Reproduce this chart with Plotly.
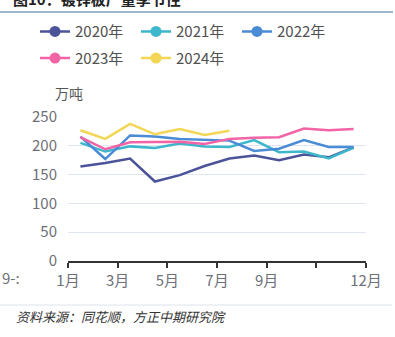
import plotly.graph_objects as go

months = ["1月", "2月", "3月", "4月", "5月", "6月", "7月", "8月", "9月", "10月", "11月", "12月"]
tick_labels = ["1月", "3月", "5月", "7月", "9月", "", "12月"]
tick_vals = [0, 2, 4, 6, 8, 10, 12]

v2020 = [164, 170, 178, 138, 149, 165, 178, 183, 175, 185, 180, 197]
v2021 = [205, 190, 199, 196, 204, 199, 198, 210, 189, 190, 178, 197]
v2022 = [216, 177, 218, 216, 212, 210, 209, 191, 195, 210, 198, 198]
v2023 = [215, 194, 206, 206, 207, 203, 212, 214, 215, 230, 227, 229]
v2024 = [227, 212, 238, 220, 229, 219, 226]

series = [
    ("2020年", v2020, "#4b5399", "legend"),
    ("2021年", v2021, "#3cb7cc", "legend"),
    ("2022年", v2022, "#4a8bd6", "legend"),
    ("2023年", v2023, "#f264a6", "legend2"),
    ("2024年", v2024, "#f2d654", "legend2"),
]

FONT = "Noto Sans CJK SC"

# layout geometry (pixels)
W, H = 395, 337
ML, MR, MT, MB = 30, 29, 117, 76
PW = W - ML - MR
PH = H - MT - MB
AX_LEFT = 68


def px(xp):
    return (xp - ML) / PW


def py(yp):
    return (H - MB - yp) / PH


fig = go.Figure()
for name, vals, color, lg in series:
    xs = [i + 0.5 for i in range(len(vals))]
    fig.add_trace(go.Scatter(
        x=xs, y=vals, mode="lines", name=name,
        line=dict(color=color, width=2.5),
        showlegend=False,
    ))
for name, vals, color, lg in series:
    fig.add_trace(go.Scatter(
        x=[None], y=[None], mode="lines+markers", name=name,
        line=dict(color=color, width=2.5),
        marker=dict(color=color, size=11),
        legend=lg, showlegend=True,
    ))

legend_common = dict(
    orientation="h", xref="paper", yref="container",
    x=px(35), xanchor="left", yanchor="middle",
    font=dict(family=FONT, size=15, color="#505050"),
    bgcolor="rgba(0,0,0,0)", entrywidth=56, entrywidthmode="pixels",
    itemclick=False, itemdoubleclick=False,
)

fig.update_layout(
    width=W, height=H,
    margin=dict(l=ML, r=MR, t=MT, b=MB, pad=0),
    paper_bgcolor="white", plot_bgcolor="white",
    font=dict(family=FONT),
    title=dict(
        text="<b>图10：镀锌板产量季节性</b>",
        xref="container", yref="container", x=13 / W, xanchor="left",
        y=1.0, yanchor="middle",
        font=dict(family=FONT, size=15, color="#222222"),
    ),
    legend=dict(legend_common, y=1 - 31.7 / H),
    legend2=dict(legend_common, y=1 - 58.3 / H),
    xaxis=dict(
        domain=[px(AX_LEFT), 1],
        range=[0, 12], tickvals=tick_vals, ticktext=tick_labels,
        showgrid=False, zeroline=False,
        showline=True, linecolor="#333333", linewidth=1.5,
        ticks="outside", ticklen=5, tickcolor="#333333", tickwidth=1.5,
        tickfont=dict(family=FONT, size=15, color="#6e7079"),
        ticklabelstandoff=0,
    ),
    yaxis=dict(
        range=[0, 250], tickvals=[0, 50, 100, 150, 200, 250],
        showgrid=True, gridcolor="#e0e6f1", gridwidth=1,
        zeroline=False, showline=False, ticks="",
        tickfont=dict(family=FONT, size=15, color="#6e7079"),
        ticklabelstandoff=10,
    ),
    annotations=[
        dict(text="万吨", xref="paper", yref="paper", x=px(53), y=py(93),
             xanchor="left", yanchor="middle", showarrow=False,
             font=dict(family=FONT, size=14, color="#555555")),
        dict(text="9-:", xref="paper", yref="paper", x=px(0), y=py(277),
             xanchor="left", yanchor="middle", showarrow=False,
             font=dict(family=FONT, size=15, color="#6e7079")),
        dict(text="<i>资料来源：同花顺，方正中期研究院</i>", xref="paper", yref="paper",
             x=px(14), y=py(316.5),
             xanchor="left", yanchor="middle", showarrow=False,
             font=dict(family=FONT, size=13, color="#333333")),
    ],
    shapes=[
        dict(type="line", xref="paper", yref="paper",
             x0=px(0), x1=px(393), y0=py(12), y1=py(12),
             line=dict(color="#3a6f9c", width=1.2)),
        dict(type="line", xref="paper", yref="paper",
             x0=px(0), x1=px(392), y0=py(305), y1=py(305),
             line=dict(color="#dde3ea", width=1)),
    ],
)

fig.write_html("out.html")
